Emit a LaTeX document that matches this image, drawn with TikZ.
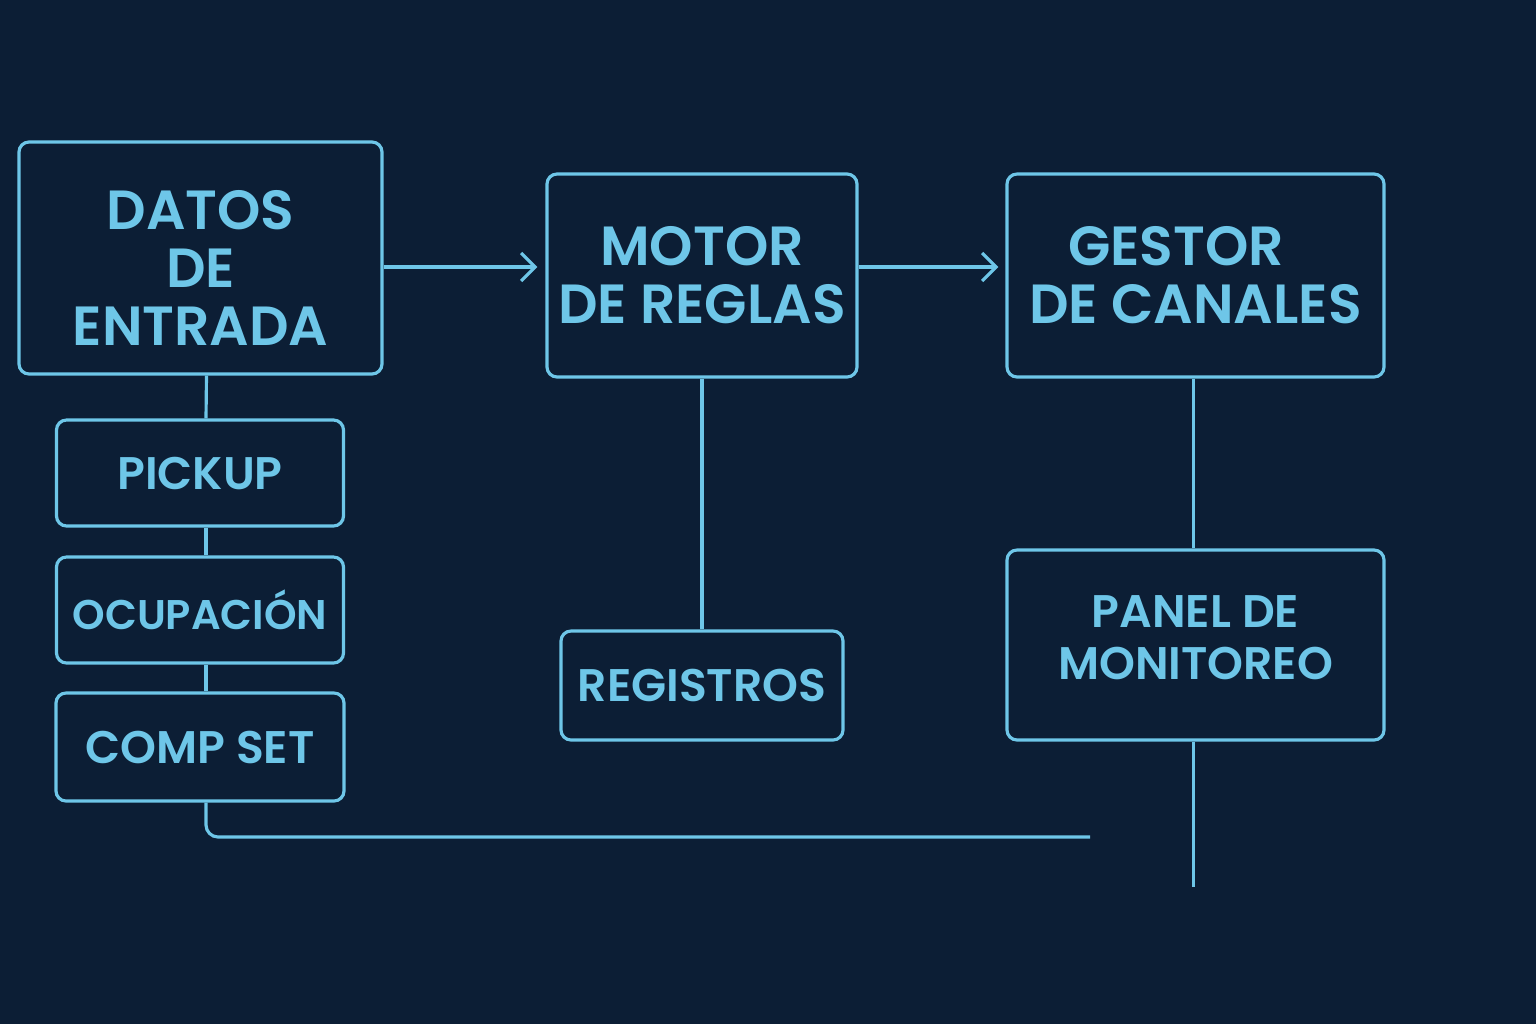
\documentclass[tikz,border=0pt]{standalone}
\usepackage{fontspec}
\setmainfont{Poppins SemiBold}
\usetikzlibrary{positioning,calc,arrows.meta}
\definecolor{bgnavy}{HTML}{0C1E35}
\definecolor{cyanline}{HTML}{6EC6E8}
\tikzset{
  block/.style={draw=cyanline, line width=0.9pt, rounded corners=0.1cm, text=cyanline, align=center, inner sep=0pt},
  bigtxt/.style={font=\fontsize{15.7}{16.5}\selectfont},
  smalltxt/.style={font=\fontsize{13}{14.8}\selectfont},
  wire/.style={draw=cyanline, line width=0.9pt},
  arr/.style={wire, -{Straight Barb[length=4pt,width=8pt,line width=0.9pt]}}
}
\begin{document}
\begin{tikzpicture}
    \fill[bgnavy] (0,0) rectangle (15.36,-10.24);
    \useasboundingbox (0,0) rectangle (15.36,-10.24);
    % main blocks
    \node[block, bigtxt, minimum width=3.63cm, minimum height=2.32cm] (datos) at (2.005,-2.58) {\rule{0pt}{17pt}DATOS\\DE\\ENTRADA};
    \node[block, bigtxt, minimum width=3.10cm, minimum height=2.03cm] (motor) at (7.02,-2.755) {MOTOR\\DE REGLAS};
    \node[block, bigtxt, minimum width=3.77cm, minimum height=2.03cm] (gestor) at (11.955,-2.755) {GESTOR\hspace*{11pt}\\DE CANALES};
    % inputs
    \node[block, smalltxt, minimum width=2.87cm, minimum height=1.06cm] (pickup) at (2.00,-4.73) {PICKUP};
    \node[block, smalltxt, minimum width=2.87cm, minimum height=1.06cm] (ocupacion) at (2.00,-6.10) {\fontsize{11.8}{14}\selectfont OCUPACIÓN};
    \node[block, smalltxt, minimum width=2.88cm, minimum height=1.08cm] (compset) at (2.00,-7.47) {COMP SET};
    % outputs
    \node[block, smalltxt, minimum width=2.82cm, minimum height=1.09cm] (registros) at (7.02,-6.855) {REGISTROS};
    \node[block, smalltxt, minimum width=3.77cm, minimum height=1.90cm] (panel) at (11.955,-6.45) {PANEL DE\\MONITOREO\rule[-4pt]{0pt}{1pt}};
    % connectors
    \coordinate (row) at (0,-2.67);
    \coordinate (busend) at (10.90,-8.37);
    \coordinate (tail) at (11.93,-8.87);
    \draw[arr, shorten >=0.08cm] (datos.east |- row) -- (motor.west |- row);
    \draw[arr, shorten >=0.07cm] (motor.east |- row) -- (gestor.west |- row);
    \draw[wire] ([xshift=0.06cm]datos.south) -- ([xshift=0.06cm]pickup.north);
    \draw[wire] ([xshift=0.06cm]pickup.south) -- ([xshift=0.06cm]ocupacion.north);
    \draw[wire] ([xshift=0.06cm]ocupacion.south) -- ([xshift=0.06cm]compset.north);
    \draw[wire, rounded corners=0.12cm] ([xshift=0.06cm]compset.south) |- (busend);
    \draw[wire] (motor.south) -- (registros.north);
    \draw[wire] ([xshift=-0.02cm]gestor.south) -- ([xshift=-0.02cm]panel.north);
    \draw[wire] ([xshift=-0.02cm]panel.south) -- ([xshift=-0.02cm]panel.south |- tail);
\end{tikzpicture}
\end{document}
